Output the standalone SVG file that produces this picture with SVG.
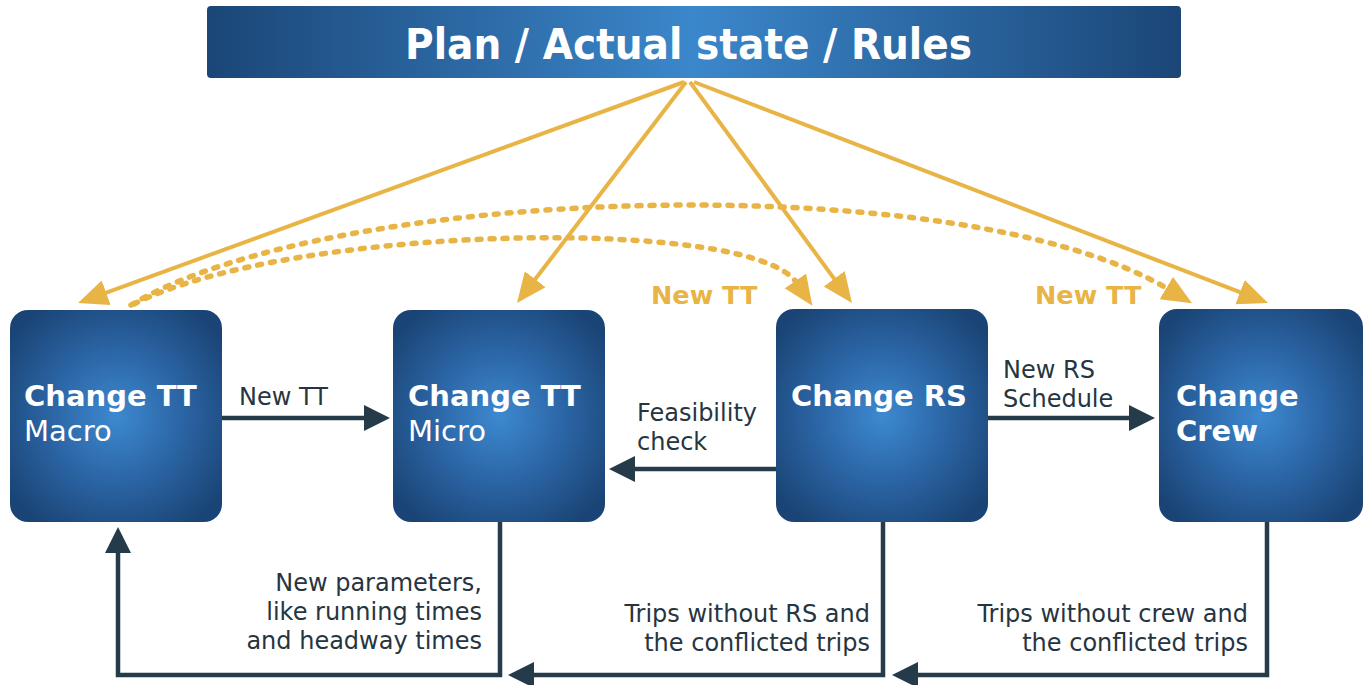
<svg xmlns="http://www.w3.org/2000/svg" width="1363" height="685" viewBox="0 0 1363 685">
  <style>
    .box { fill: url(#boxGrad); }
    .title { font-family: "DejaVu Sans", Verdana, sans-serif; font-weight: bold; fill: #ffffff; }
    .head { font-family: "DejaVu Sans", Verdana, sans-serif; font-weight: bold; font-size: 29px; fill: #ffffff; }
    .sub { font-family: "DejaVu Sans", Verdana, sans-serif; font-size: 29px; fill: #ffffff; }
    .lbl { font-family: "DejaVu Sans", Verdana, sans-serif; font-size: 24px; fill: #263540; }
    .olbl { font-family: "DejaVu Sans", Verdana, sans-serif; font-weight: bold; font-size: 25.5px; fill: #e8b445; }
    .dark { fill: none; stroke: #263b4a; stroke-width: 4.5; marker-end: url(#darkHead); }
    .gold { fill: none; stroke: #e8b445; stroke-width: 4; marker-end: url(#goldHead); }
    .dots { fill: none; stroke: #e8b445; stroke-width: 5.5; stroke-linecap: round; stroke-dasharray: 4 9; marker-end: url(#goldHead); }
  </style>
  <defs>
    <radialGradient id="boxGrad" cx="0.5" cy="0.5" r="0.62">
      <stop offset="0" stop-color="#3d89d0"/>
      <stop offset="0.5" stop-color="#2b65a5"/>
      <stop offset="1" stop-color="#1a4475"/>
    </radialGradient>
    <linearGradient id="barGrad" x1="0" y1="0" x2="1" y2="0">
      <stop offset="0" stop-color="#1b4677"/>
      <stop offset="0.5" stop-color="#3b87cb"/>
      <stop offset="1" stop-color="#1b4677"/>
    </linearGradient>
    <marker id="darkHead" markerUnits="userSpaceOnUse" markerWidth="30" markerHeight="28" refX="2" refY="13" orient="auto">
      <path d="M0,0 L26,13 L0,26 Z" fill="#263b4a"/>
    </marker>
    <marker id="goldHead" markerUnits="userSpaceOnUse" markerWidth="32" markerHeight="28" refX="2" refY="13" orient="auto">
      <path d="M0,0 L30,13 L0,26 Z" fill="#e8b445"/>
    </marker>
  </defs>

  <rect width="1363" height="685" fill="#ffffff"/>

  <!-- connectors -->
  <g id="connectors">
    <!-- from the top bar down to every step -->
    <path class="gold" d="M684,82 L104.3,293.4"/>
    <path class="gold" d="M686,82 L534,280.8"/>
    <path class="gold" d="M690,82 L835.4,280.4"/>
    <path class="gold" d="M694,82 L1241.9,292.9"/>
    <!-- new timetable handed on -->
    <path class="dots" d="M131,305 C330,185 960,165 1168,289"/>
    <path class="dots" d="M134,304 C290,225 750,215 796.5,282.6"/>
    <!-- forward flow -->
    <path class="dark" d="M222,418 H366"/>
    <path class="dark" d="M776,469 H633"/>
    <path class="dark" d="M988,418 H1131"/>
    <!-- feedback loops along the bottom -->
    <path class="dark" d="M500,522 V675 H118 V551"/>
    <path class="dark" d="M883,522 V675 H532"/>
    <path class="dark" d="M1267,522 V675 H916"/>
  </g>

  <!-- top bar -->
  <g id="source">
    <rect x="207" y="6" width="974" height="72" rx="4" fill="url(#barGrad)"/>
    <text class="title" x="405" y="59" font-size="42" textLength="567" lengthAdjust="spacingAndGlyphs">Plan / Actual state / Rules</text>
  </g>

  <g id="tt-macro">
    <rect class="box" x="10" y="310" width="212" height="212" rx="18"/>
    <text class="head" x="24" y="406">Change TT</text>
    <text class="sub" x="24" y="441">Macro</text>
  </g>

  <g id="tt-micro">
    <rect class="box" x="393" y="310" width="212" height="212" rx="18"/>
    <text class="head" x="408" y="406">Change TT</text>
    <text class="sub" x="408" y="441">Micro</text>
  </g>

  <g id="rs">
    <rect class="box" x="776" y="309" width="212" height="213" rx="18"/>
    <text class="head" x="791" y="406">Change RS</text>
  </g>

  <g id="crew">
    <rect class="box" x="1159" y="309" width="204" height="213" rx="18"/>
    <text class="head" x="1176" y="406">Change</text>
    <text class="head" x="1176" y="441">Crew</text>
  </g>

  <!-- connector labels -->
  <g id="labels">
    <text class="lbl" x="239" y="405">New TT</text>
    <text class="lbl" x="637" y="421">Feasibility</text>
    <text class="lbl" x="637" y="450">check</text>
    <text class="lbl" x="1003" y="378">New RS</text>
    <text class="lbl" x="1003" y="407">Schedule</text>
    <text class="olbl" x="651" y="304">New TT</text>
    <text class="olbl" x="1035" y="304">New TT</text>
    <g text-anchor="end">
      <text class="lbl" x="482" y="591">New parameters,</text>
      <text class="lbl" x="482" y="620">like running times</text>
      <text class="lbl" x="482" y="649">and headway times</text>
      <text class="lbl" x="870" y="622">Trips without RS and</text>
      <text class="lbl" x="870" y="651">the conflicted trips</text>
      <text class="lbl" x="1248" y="622">Trips without crew and</text>
      <text class="lbl" x="1248" y="651">the conflicted trips</text>
    </g>
  </g>
</svg>
